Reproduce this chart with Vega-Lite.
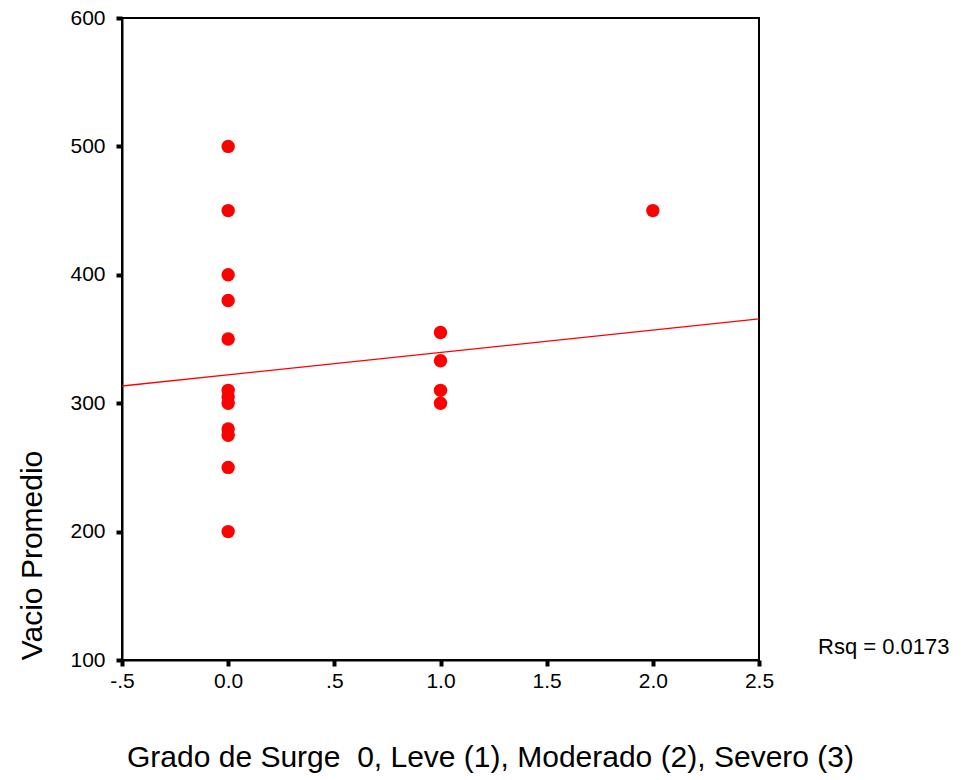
{
  "$schema": "https://vega.github.io/schema/vega-lite/v6.json",
  "width": 637,
  "height": 642,
  "autosize": "none",
  "padding": {"left": 122, "top": 18, "right": 204, "bottom": 120},
  "background": "white",
  "config": {
    "view": {"stroke": "black", "strokeWidth": 2},
    "font": "Liberation Sans",
    "axis": {
      "grid": false,
      "domainColor": "black",
      "domainWidth": 2,
      "tickColor": "black",
      "tickWidth": 4,
      "tickSize": 6,
      "labelColor": "black",
      "labelFont": "Liberation Sans",
      "labelFontSize": 21,
      "labelFlush": false,
      "labelOverlap": false,
      "titleFont": "Liberation Sans",
      "titleFontWeight": "normal",
      "titleColor": "black",
      "titleFontSize": 30
    }
  },
  "datasets": {
    "pts": [
      {"grado": 0, "vacio": 500},
      {"grado": 0, "vacio": 450},
      {"grado": 0, "vacio": 400},
      {"grado": 0, "vacio": 380},
      {"grado": 0, "vacio": 350},
      {"grado": 0, "vacio": 310},
      {"grado": 0, "vacio": 305},
      {"grado": 0, "vacio": 300},
      {"grado": 0, "vacio": 280},
      {"grado": 0, "vacio": 275},
      {"grado": 0, "vacio": 250},
      {"grado": 0, "vacio": 200},
      {"grado": 1, "vacio": 355},
      {"grado": 1, "vacio": 333},
      {"grado": 1, "vacio": 310},
      {"grado": 1, "vacio": 300},
      {"grado": 2, "vacio": 450}
    ],
    "fit": [
      {"grado": -0.5, "vacio": 313.4},
      {"grado": 2.5, "vacio": 365.6}
    ],
    "rsq": [
      {"grado": 2.5, "vacio": 100, "label": "Rsq = 0.0173"}
    ]
  },
  "layer": [
    {
      "data": {"name": "fit"},
      "mark": {"type": "line", "color": "#ff0000", "strokeWidth": 1.3},
      "encoding": {
        "x": {
          "field": "grado", "type": "quantitative",
          "scale": {"domain": [-0.5, 2.5], "nice": false, "zero": false},
          "axis": {
            "title": "Grado de Surge\u00a0 0, Leve (1), Moderado (2), Severo (3)",
            "values": [-0.5, 0, 0.5, 1, 1.5, 2, 2.5],
            "labelExpr": "datum.value == -0.5 ? '-.5' : datum.value == 0.5 ? '.5' : format(datum.value, '.1f')",
            "labelPadding": 4,
            "titleY": 82,
            "titleX": 368
          }
        },
        "y": {
          "field": "vacio", "type": "quantitative",
          "scale": {"domain": [100, 600], "nice": false, "zero": false},
          "axis": {
            "title": "Vacio Promedio",
            "values": [100, 200, 300, 400, 500, 600],
            "labelPadding": 11,
            "titleX": -75,
            "titleY": 537,
            "titleAnchor": "middle"
          }
        }
      }
    },
    {
      "data": {"name": "pts"},
      "mark": {"type": "circle", "color": "#ff0000", "opacity": 1, "size": 180},
      "encoding": {
        "x": {"field": "grado", "type": "quantitative"},
        "y": {"field": "vacio", "type": "quantitative"}
      }
    },
    {
      "data": {"name": "rsq"},
      "mark": {"type": "text", "align": "left", "baseline": "middle", "dx": 59, "dy": -13, "fontSize": 22, "font": "Liberation Sans", "color": "black"},
      "encoding": {
        "x": {"field": "grado", "type": "quantitative"},
        "y": {"field": "vacio", "type": "quantitative"},
        "text": {"field": "label"}
      }
    }
  ]
}
